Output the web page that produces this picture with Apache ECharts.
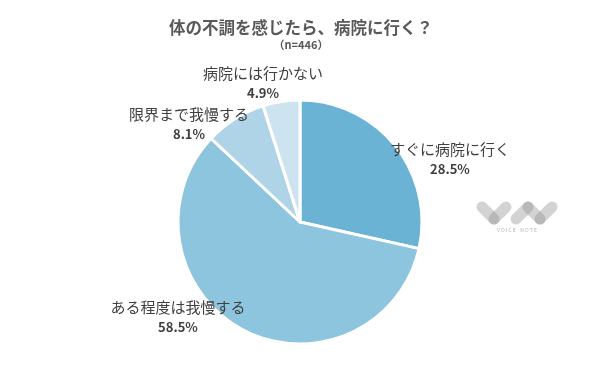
<!DOCTYPE html>
<html>
<head>
<meta charset="utf-8">
<script src="https://cdn.jsdelivr.net/npm/echarts@6/dist/echarts.min.js"></script>
<style>html,body{margin:0;padding:0;background:#fff}#c{width:600px;height:385px}</style>
</head>
<body>
<div id="c"></div>
<script>
var categories = ['すぐに病院に行く', 'ある程度は我慢する', '限界まで我慢する', '病院には行かない'];
var values = [28.5, 58.5, 8.1, 4.9];
var colors = ['#6ab3d5', '#8dc4de', '#afd4e7', '#cde4f0'];
var labelX = [450, 178, 189, 263];
var labelY = [159, 317, 124, 83];

var chart = echarts.init(document.getElementById('c'));
var FONT = '"Noto Sans CJK JP", "Noto Sans", sans-serif';
function capsule(x1, y1, x2, y2) {
  return {
    type: 'line', silent: true,
    shape: { x1: x1, y1: y1, x2: x2, y2: y2 },
    style: { stroke: 'rgba(140,140,140,0.38)', lineWidth: 11, lineCap: 'round' }
  };
}
chart.setOption({
  backgroundColor: '#fff',
  animation: false,
  title: {
    text: '体の不調を感じたら、病院に行く？',
    subtext: '（n=446）',
    left: 296, top: 14, textAlign: 'center',
    itemGap: 4,
    textStyle: { fontFamily: FONT, fontSize: 16.5, fontWeight: 'bold', color: '#595959' },
    subtextStyle: { fontFamily: FONT, fontSize: 11, fontWeight: 'bold', color: '#595959' }
  },
  graphic: [
    capsule(482, 207, 494, 219),
    capsule(494, 219, 506, 207),
    capsule(516, 219, 528, 207),
    capsule(528, 207, 540, 219),
    capsule(540, 219, 552, 207),
    { type: 'text', silent: true, style: { x: 517, y: 230, text: 'V O I C E    N O T E', fontSize: 5, fill: '#b0b0b0', align: 'center', verticalAlign: 'middle', fontFamily: FONT } }
  ],
  series: [{
    type: 'pie',
    center: [300, 222],
    radius: [0, 122],
    startAngle: 90,
    clockwise: true,
    itemStyle: { borderColor: '#fff', borderWidth: 3 },
    label: {
      show: true,
      position: 'outside',
      formatter: '{n|{b}}\n{v|{c}%}',
      rich: {
        n: { fontFamily: FONT, fontSize: 15, color: '#404040', lineHeight: 21 },
        v: { fontFamily: FONT, fontSize: 13, fontWeight: 'bold', color: '#404040', lineHeight: 20 }
      }
    },
    labelLine: { show: false },
    labelLayout: function (p) {
      return { x: labelX[p.dataIndex], y: labelY[p.dataIndex], align: 'center', verticalAlign: 'middle' };
    },
    data: categories.map(function (c, i) {
      return { name: c, value: values[i], itemStyle: { color: colors[i] } };
    })
  }]
});
</script>
</body>
</html>
